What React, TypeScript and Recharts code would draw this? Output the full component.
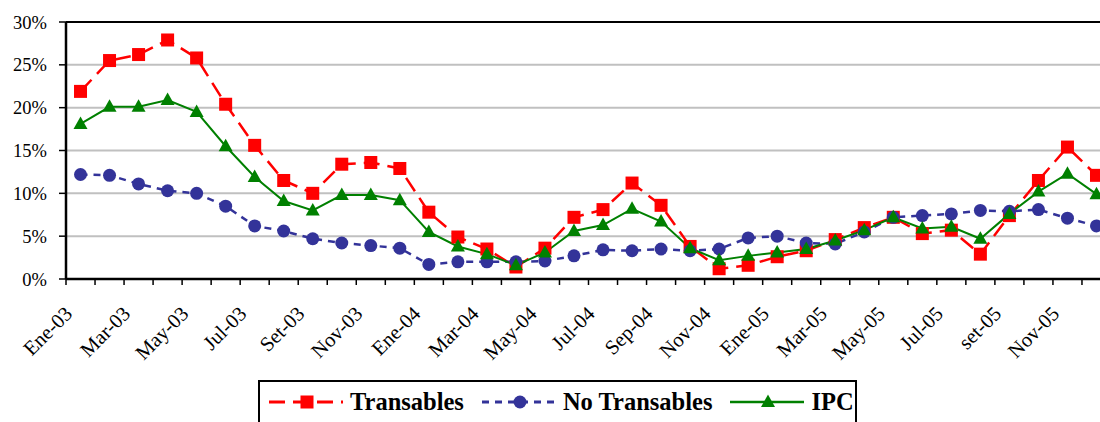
import React from "react";
import {
  LineChart,
  Line,
  XAxis,
  YAxis,
  CartesianGrid,
  ReferenceLine,
  Legend,
} from "recharts";

const FUENTE = "'Liberation Serif', 'DejaVu Serif', serif";

const meses = [
  "Ene-03", "Feb-03", "Mar-03", "Abr-03", "May-03", "Jun-03",
  "Jul-03", "Ago-03", "Set-03", "Oct-03", "Nov-03", "Dic-03",
  "Ene-04", "Feb-04", "Mar-04", "Abr-04", "May-04", "Jun-04",
  "Jul-04", "Ago-04", "Sep-04", "Oct-04", "Nov-04", "Dic-04",
  "Ene-05", "Feb-05", "Mar-05", "Abr-05", "May-05", "Jun-05",
  "Jul-05", "Ago-05", "set-05", "Oct-05", "Nov-05", "Dic-05",
];

const transables = [
  21.9, 25.5, 26.2, 27.9, 25.8, 20.4, 15.6, 11.5, 10.0, 13.4, 13.6, 12.9,
  7.8, 4.9, 3.5, 1.4, 3.6, 7.2, 8.1, 11.2, 8.6, 3.8, 1.2, 1.6,
  2.6, 3.3, 4.6, 6.0, 7.2, 5.3, 5.7, 2.9, 7.4, 11.5, 15.4, 12.1,
];

const noTransables = [
  12.2, 12.1, 11.1, 10.3, 10.0, 8.5, 6.2, 5.6, 4.7, 4.2, 3.9, 3.6,
  1.7, 2.0, 2.0, 2.0, 2.1, 2.7, 3.4, 3.3, 3.5, 3.3, 3.5, 4.8,
  5.0, 4.2, 4.1, 5.5, 7.2, 7.4, 7.6, 8.0, 7.9, 8.1, 7.1, 6.2,
];

const ipc = [
  18.1, 20.1, 20.1, 20.9, 19.5, 15.5, 11.9, 9.1, 8.0, 9.8, 9.8, 9.2,
  5.5, 3.8, 2.9, 1.6, 3.1, 5.6, 6.3, 8.2, 6.7, 3.6, 2.2, 2.7,
  3.1, 3.5, 4.5, 5.7, 7.2, 5.9, 6.1, 4.7, 7.6, 10.2, 12.3, 9.9,
];

const yTicks = [0, 5, 10, 15, 20, 25, 30];

const datos = meses.map((mes, i) => ({
  idx: i,
  mes,
  transables: transables[i],
  noTransables: noTransables[i],
  ipc: ipc[i],
}));

// ticks at every category center and every boundary between categories
const xTicks: number[] = [];
for (let i = -1; i < meses.length; i++) {
  xTicks.push(i + 0.5);
  if (i + 1 < meses.length) xTicks.push(i + 1);
}

type Marca = "cuadrado" | "circulo" | "triangulo";

const SERIES: { key: string; nombre: string; color: string; dash?: string; ancho: number; marca: Marca }[] = [
  { key: "transables", nombre: "Transables", color: "#ff0000", dash: "16 8", ancho: 2.5, marca: "cuadrado" },
  { key: "noTransables", nombre: "No Transables", color: "#333399", dash: "7 6", ancho: 2.5, marca: "circulo" },
  { key: "ipc", nombre: "IPC", color: "#008000", ancho: 2, marca: "triangulo" },
];

function Marcador({ cx, cy, marca, color }: { cx: number; cy: number; marca: Marca; color: string }) {
  if (cx == null || cy == null) return null;
  if (marca === "cuadrado")
    return <rect x={cx - 6.5} y={cy - 6.5} width={13} height={13} fill={color} />;
  if (marca === "circulo") return <circle cx={cx} cy={cy} r={6.5} fill={color} />;
  return (
    <polygon
      points={`${cx},${cy - 7.5} ${cx + 7},${cy + 5} ${cx - 7},${cy + 5}`}
      fill={color}
    />
  );
}

function TickMes(props: any) {
  const { x, y, payload } = props;
  const v = payload.value as number;
  if (!Number.isInteger(v)) {
    return <line x1={x} x2={x} y1={y - 6} y2={y} stroke="#000" strokeWidth={1.5} />;
  }
  if (v % 2 !== 0) return <g />;
  return (
    <text
      transform={`translate(${x - 7},${y + 30}) rotate(-45)`}
      textAnchor="end"
      fontFamily={FUENTE}
      fontSize={20.5}
      fill="#000"
    >
      {meses[v]}
    </text>
  );
}

function Leyenda() {
  return (
    <div
      style={{
        border: "2px solid #000",
        boxSizing: "border-box",
        width: 599,
        height: 70,
        background: "#fff",
        display: "flex",
        alignItems: "flex-start",
        paddingTop: 6,
        paddingLeft: 7,
        fontFamily: FUENTE,
        fontWeight: "bold",
        fontSize: 24.5,
        lineHeight: "28px",
        color: "#000",
        whiteSpace: "nowrap",
      }}
    >
      {SERIES.map((s) => (
        <div
          key={s.key}
          style={{ display: "flex", alignItems: "center", marginRight: 16, flexShrink: 0 }}
        >
          <svg width={76} height={28} style={{ marginRight: 7, flexShrink: 0 }}>
            <line
              x1={2}
              x2={76}
              y1={14}
              y2={14}
              stroke={s.color}
              strokeWidth={s.ancho + 0.5}
              strokeDasharray={s.dash}
            />
            <Marcador cx={40} cy={14} marca={s.marca} color={s.color} />
          </svg>
          <span>{s.nombre}</span>
        </div>
      ))}
    </div>
  );
}

export default function App() {
  return (
    <div
      style={{
        position: "absolute",
        left: 0,
        top: 0,
        width: 1100,
        height: 422,
        overflow: "hidden",
        background: "#fff",
      }}
    >
      <LineChart
        width={1120}
        height={422}
        data={datos}
        margin={{ top: 22, right: 9, left: 0, bottom: 0 }}
      >
        <CartesianGrid horizontal vertical={false} stroke="#c0c0c0" strokeWidth={2} />
        <ReferenceLine y={30} stroke="#000" strokeWidth={2} />
        <XAxis
          dataKey="idx"
          type="number"
          domain={[-0.5, meses.length - 0.5]}
          ticks={xTicks}
          interval={0}
          height={143}
          tickSize={6}
          tickMargin={0}
          tickLine={false}
          axisLine={{ stroke: "#000", strokeWidth: 2.5 }}
          tick={<TickMes />}
        />
        <YAxis
          domain={[0, 30]}
          ticks={yTicks}
          interval={0}
          width={66}
          tickSize={7}
          tickMargin={12}
          tickFormatter={(v: number) => `${v}%`}
          tick={{ fontFamily: FUENTE, fontSize: 18.5, fill: "#000" }}
          tickLine={{ stroke: "#000", strokeWidth: 1.5 }}
          axisLine={{ stroke: "#000", strokeWidth: 2.5 }}
        />
        {SERIES.map((s) => (
          <Line
            key={s.key}
            dataKey={s.key}
            name={s.nombre}
            type="linear"
            stroke={s.color}
            strokeWidth={s.ancho}
            strokeDasharray={s.dash}
            isAnimationActive={false}
            dot={(p: any) => (
              <Marcador key={`${s.key}-${p.index}`} cx={p.cx} cy={p.cy} marca={s.marca} color={s.color} />
            )}
            activeDot={false}
          />
        ))}
        <Legend
          layout="horizontal"
          verticalAlign="middle"
          align="center"
          wrapperStyle={{ left: 258, top: 380, width: 599, height: 70 }}
          content={() => <Leyenda />}
        />
      </LineChart>
    </div>
  );
}
